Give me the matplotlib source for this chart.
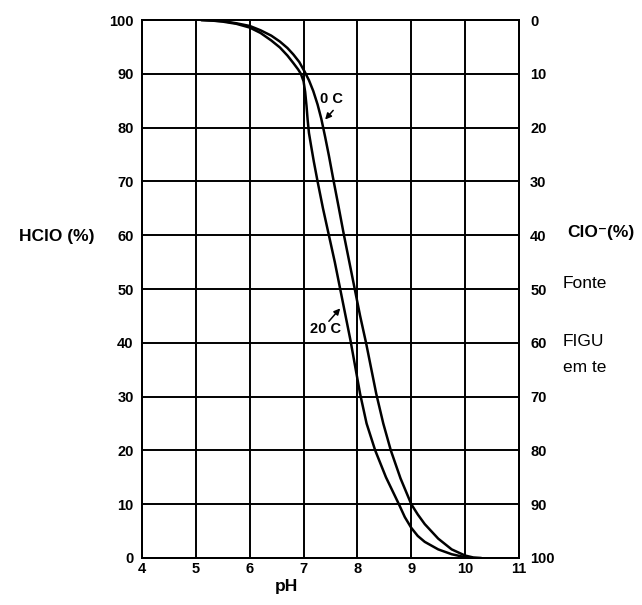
import matplotlib
matplotlib.use("Agg")
import matplotlib.pyplot as plt

plt.rcParams['font.family'] = ['Liberation Sans', 'DejaVu Sans']

# Data (HClO % vs pH)
ph_20 = [5.1, 5.3, 5.5, 5.75, 6.0, 6.2, 6.4, 6.56, 6.7, 6.81, 6.9, 6.95,
         7.0, 7.03, 7.055, 7.075, 7.1, 7.14, 7.19, 7.26, 7.36, 7.47, 7.58,
         7.68, 7.78, 7.87, 7.96, 8.05, 8.17, 8.33, 8.53, 8.77, 8.88, 9.0,
         9.12, 9.25, 9.5, 9.75, 10.0, 10.1]
hclo_20 = [100, 99.9, 99.7, 99.3, 98.6, 97.6, 96.2, 94.9, 93.4, 92.0, 90.8, 90.0,
           88.6, 86.6, 84.0, 81.5, 79.0, 76.6, 73.7, 70, 65, 60, 55,
           50, 45, 40.5, 35.5, 30.5, 25, 20, 15, 10, 7.6, 5.6,
           4.1, 3.0, 1.6, 0.7, 0.15, 0]

ph_0 = [5.1, 5.3, 5.5, 5.75, 6.0, 6.2, 6.4, 6.56, 6.7, 6.81, 6.92, 7.02,
        7.1, 7.18, 7.26, 7.33, 7.4, 7.47, 7.55, 7.65, 7.75, 7.85, 7.95,
        8.05, 8.16, 8.25, 8.35, 8.48, 8.62, 8.8, 9.0, 9.12, 9.25, 9.5,
        9.75, 10.0, 10.15, 10.3]
hclo_0 = [100, 99.9, 99.8, 99.4, 98.9, 98.1, 97.1, 96.0, 94.8, 93.6, 92.2, 90.4,
          88.8, 86.8, 84.3, 81.6, 78.3, 74.8, 70.5, 65.3, 60, 55, 50,
          45, 40, 35.5, 30.5, 25, 20, 14.8, 10, 8.1, 6.3, 3.6,
          1.6, 0.45, 0.1, 0]

ph_ticks = [4, 5, 6, 7, 8, 9, 10, 11]
pct_ticks = [0, 10, 20, 30, 40, 50, 60, 70, 80, 90, 100]

fig = plt.figure(figsize=(6.42, 6.05), dpi=100)
ax = fig.add_axes([0.2212, 0.0777, 0.5872, 0.8892])

ax.plot(ph_20, hclo_20, color='black', lw=1.8, solid_capstyle='round',
        solid_joinstyle='round')
ax.plot(ph_0, hclo_0, color='black', lw=1.8, solid_capstyle='round',
        solid_joinstyle='round')

ax.set_xlim(4, 11)
ax.set_ylim(0, 100)
ax.set_xticks(ph_ticks)
ax.set_yticks(pct_ticks)
ax.grid(True, color='black', lw=1.4)
ax.tick_params(length=0, labelsize=10.5, pad=6)
ax.tick_params(axis='x', pad=3)
for lab in ax.get_xticklabels() + ax.get_yticklabels():
    lab.set_fontweight('bold')
for s in ax.spines.values():
    s.set_linewidth(1.4)

ax2 = ax.twinx()
ax2.set_ylim(100, 0)
ax2.set_yticks(pct_ticks)
ax2.tick_params(length=0, labelsize=10.5, pad=8)
for lab in ax2.get_yticklabels():
    lab.set_fontweight('bold')
for s in ax2.spines.values():
    s.set_linewidth(1.4)

# Curve labels with arrows
ax.text(7.52, 85.4, '0 C', fontsize=10.5, fontweight='bold', ha='center', va='center')
ax.annotate('', xy=(7.40, 81.5), xytext=(7.55, 83.2),
            arrowprops=dict(arrowstyle='-|>', color='black', lw=1.1,
                            mutation_scale=9, shrinkA=0, shrinkB=0))
ax.text(7.40, 42.6, '20 C', fontsize=10.5, fontweight='bold', ha='center', va='center')
ax.annotate('', xy=(7.68, 46.4), xytext=(7.47, 44.0),
            arrowprops=dict(arrowstyle='-|>', color='black', lw=1.1,
                            mutation_scale=9, shrinkA=0, shrinkB=0))

fig.text(57 / 642, 1 - 236 / 605, 'HClO (%)', fontsize=12.5, fontweight='bold',
         ha='center', va='center')
fig.text(567 / 642, 1 - 233 / 605, 'ClO⁻(%)', fontsize=12.5, fontweight='bold',
         ha='left', va='center')
fig.text(286 / 642, 1 - 586 / 605, 'pH', fontsize=12.5, fontweight='bold',
         ha='center', va='center')

fig.text(563 / 642, 1 - 283 / 605, 'Fonte', fontsize=12.5, ha='left', va='center')
fig.text(563 / 642, 1 - 341 / 605, 'FIGU', fontsize=12.5, ha='left', va='center')
fig.text(563 / 642, 1 - 367 / 605, 'em te', fontsize=12.5, ha='left', va='center')

fig.savefig('out.png', dpi=100)
